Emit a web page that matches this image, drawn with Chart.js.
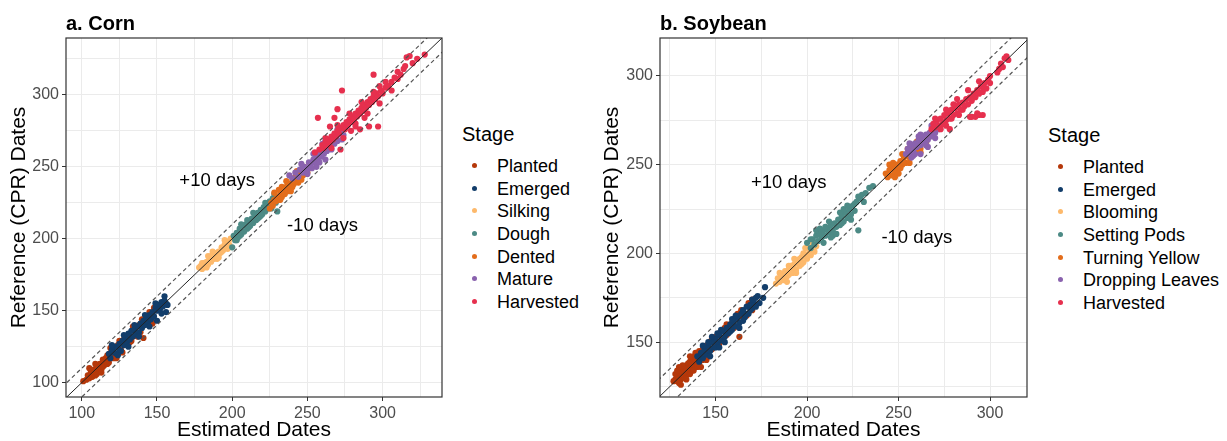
<!DOCTYPE html>
<html>
<head>
<meta charset="utf-8">
<script src="https://cdn.jsdelivr.net/npm/chart.js@4.4.1/dist/chart.umd.min.js"></script>
<style>
  body { margin: 0; background: #fff; font-family: "Liberation Sans", Arial, sans-serif; }
  #wrap { position: relative; width: 1227px; height: 441px; overflow: hidden; }
  canvas { position: absolute; top: 0; }
  .title { position: absolute; top: 11px; font-weight: bold; font-size: 20px; line-height: 24px; color: #000; }
  .legend { position: absolute; color: #000; }
  .legend .head { font-size: 20px; line-height: 24px; height: 24px; margin-bottom: 9px; }
  .legend .row { display: flex; align-items: center; height: 22.7px; font-size: 18px; line-height: 22.7px; white-space: nowrap; }
  .legend .dot { width: 5px; height: 5px; border-radius: 50%; margin-left: 10px; margin-right: 20px; position: relative; top: -1px; }
</style>
</head>
<body>
<div id="wrap">
  <canvas id="cornChart" width="450" height="441" style="left:0"></canvas>
  <canvas id="soyChart" width="435" height="441" style="left:600px"></canvas>
  <div class="title" style="left:66px">a. Corn</div>
  <div class="title" style="left:660px">b. Soybean</div>
  <div class="legend" id="cornLegend" style="left:462px; top:122px"></div>
  <div class="legend" id="soyLegend" style="left:1048px; top:123px"></div>
</div>
<script>
// stage names and colours
const cornStages = ['Planted', 'Emerged', 'Silking', 'Dough', 'Dented', 'Mature', 'Harvested'];
const soyStages = ['Planted', 'Emerged', 'Blooming', 'Setting Pods', 'Turning Yellow', 'Dropping Leaves', 'Harvested'];
const stageColors = ['#B5380A', '#123D6A', '#FDB96B', '#4C8A85', '#E36D1B', '#8A62AE', '#E6304E'];

// tick labels
const cornTicks = [100, 150, 200, 250, 300];
const soyTicks = [150, 200, 250, 300];

// reference lines (y = x and +/- 10 days)
const lineOneToOne = [[80, 80], [360, 360]];
const linePlus10 = [[80, 90], [360, 370]];
const lineMinus10 = [[80, 70], [360, 350]];

// corn points [estimated, reference]
const cornPlanted = [[101,101],[103,102],[104,105],[105,103],[106,107],[107,104],[108,106],[108,109],[109,105],[110,111],
  [111,108],[112,110],[112,113],[113,109],[114,116],[115,112],[116,117],[116,113],[117,119],[118,114],[119,118],[120,122],
  [121,117],[122,120],[124,126],[126,123],[128,130],[130,127],[131,133],[133,129],[135,138],[136,133],[138,140],[139,135],
  [141,131],[141,143],[143,141],[144,146],[146,144],[148,152],[150,151],[110,106],[114,111],
  [105,110],[109,113],[113,107],[117,113],[119,124],[123,117],[125,129],[127,121],[132,128],[134,139],[137,132],[140,144],
  [145,149],[147,141]];
const cornEmerged = [[118,120],[119,117],[120,123],[121,121],[122,125],[123,120],[124,124],[125,127],[126,122],[127,129],
  [128,126],[129,131],[130,128],[131,134],[132,130],[133,136],[134,132],[135,137],[136,134],[137,139],[138,135],[139,141],
  [140,138],[141,143],[142,140],[143,145],[144,142],[145,147],[146,144],[147,149],[148,146],[149,152],[150,150],[151,154],
  [152,151],[153,156],[154,153],[155,157],[156,155],[150,143],[156,149],
  [120,126],[124,119],[128,133],[131,125],[135,140],[138,132],[142,147],[145,139],[149,155],[153,148],[155,160],[157,154]];
const cornSilking = [[178,180],[179,181],[180,179],[181,183],[182,181],[183,184],[184,182],[185,186],[186,184],[187,188],
  [188,186],[189,190],[190,188],[191,191],[192,190],[193,194],[194,192],[195,196],[196,194],[197,198],[198,196],[199,200],
  [186,188],[190,186],[180,183],[183,180],[187,191],[191,187],[195,199],[197,193],[184,188],[193,191]];
const cornDough = [[200,194],[201,202],[202,199],[203,204],[204,201],[205,207],[206,203],[207,209],[208,205],[209,210],
  [210,207],[211,212],[212,209],[213,214],[214,211],[215,216],[216,213],[217,218],[218,215],[219,220],[220,217],[221,222],
  [222,219],[223,224],[224,221],[225,226],[226,223],[227,228],[229,225],[230,219],[210,213],
  [203,199],[206,210],[211,208],[214,218],[219,216],[222,225],[226,221],[228,231],[205,202],[217,214]];
const cornDented = [[225,221],[226,225],[227,223],[228,227],[229,226],[230,229],[231,227],[232,231],[233,229],[234,233],
  [235,231],[236,236],[237,233],[238,238],[239,235],[240,240],[241,238],[242,243],[243,240],[244,245],[245,242],[246,246],
  [247,244],[248,247],[249,245],[250,246],[233,236],[240,236],
  [228,232],[232,227],[236,240],[239,233],[243,247],[246,241],[231,234],[248,250],[244,239]];
const cornMature = [[238,244],[240,242],[242,246],[244,243],[245,248],[247,246],[248,250],[250,248],[251,253],[252,251],
  [254,255],[255,253],[256,258],[257,256],[258,260],[259,257],[260,262],[261,259],[262,264],[263,261],[264,266],[265,263],
  [266,268],[268,266],[269,271],[270,268],[272,274],[274,272],[276,278],[262,255],[256,250],
  [246,252],[250,245],[254,259],[258,253],[262,268],[266,262],[270,276],[273,269],[253,249],[260,266]];
const cornHarvested = [[255,260],[257,284],[258,262],[260,265],[261,263],[262,267],[263,265],[264,269],[265,267],[265,278],
  [266,271],[267,269],[268,273],[268,284],[269,271],[270,275],[270,290],[271,273],[272,277],[272,262],[273,303],[274,279],
  [275,276],[276,281],[277,279],[278,283],[279,281],[280,285],[281,283],[282,287],[283,285],[284,289],[285,287],[286,291],
  [287,289],[288,293],[289,291],[290,295],[291,278],[291,293],[292,297],[293,295],[294,314],[294,299],[295,297],[296,301],
  [297,278],[297,299],[298,306],[299,303],[300,301],[302,305],[304,306],[306,309],[308,312],[310,316],[312,314],[315,320],
  [316,326],[318,327],[320,322],[323,325],[328,328],[282,278],[285,276],
  [262,270],[266,263],[270,279],[274,270],[278,287],[282,280],[286,295],[290,287],[294,302],[298,294],[302,309],[306,303],
  [310,311],[314,318],[288,284],[279,275]];

// soybean points [estimated, reference]
const soyPlanted = [[128,129],[129,131],[129,128],[130,133],[130,130],[131,129],[131,135],[132,131],[132,134],[133,130],
  [133,136],[134,133],[134,137],[135,132],[135,138],[136,135],[136,139],[137,134],[137,141],[138,137],[138,142],[139,136],
  [139,144],[140,139],[140,142],[141,138],[141,145],[142,141],[143,146],[143,140],[144,143],[145,148],[146,145],[147,150],
  [148,146],[150,149],[152,155],[154,152],[156,160],[158,157],[159,161],[160,163],[163,153],[165,164],[168,172],[170,168],
  [170,174],[132,137],[134,129],[136,142],[130,136],[142,136],[145,140],[155,158],[162,166],
  [128,132],[130,127],[131,132],[133,133],[135,135],[137,138],[139,140],[141,142],[129,134],[134,135],[136,132],[138,134],
  [140,136],[142,144],[144,147],[146,142],[148,152],[150,153],[152,149],[156,154],[160,158],[164,168],[167,165],[131,126],
  [127,128]];
const soyEmerged = [[140,142],[141,139],[142,144],[143,141],[144,146],[145,143],[146,148],[147,145],[148,150],[149,147],
  [150,152],[151,149],[152,154],[153,151],[154,156],[155,153],[156,158],[157,155],[158,160],[159,157],[160,162],[161,159],
  [162,164],[163,161],[164,166],[165,168],[166,164],[167,170],[168,166],[169,171],[170,169],[171,172],[172,170],[174,172],
  [176,175],[177,181],[146,150],[150,147],[156,155],[153,157],
  [143,148],[147,142],[151,155],[155,150],[159,163],[163,158],[167,166],[170,174],[173,176],[148,153],[152,147],[158,156],
  [161,165],[165,162],[169,168],[172,175]];
const soyBlooming = [[183,183],[184,186],[185,184],[186,188],[187,185],[188,190],[189,187],[190,191],[190,188],[191,193],
  [192,189],[193,194],[194,191],[195,196],[196,193],[197,198],[198,195],[199,203],[200,197],[201,200],[202,199],[203,202],
  [204,201],[205,204],[188,186],[192,192],[196,197],
  [185,189],[189,184],[193,197],[197,194],[201,203],[200,199],[203,206],[190,193],[194,189],[198,200]];
const soySettingPods = [[200,206],[202,203],[203,208],[204,205],[205,210],[206,207],[207,211],[208,209],[209,213],[210,210],
  [211,214],[212,212],[213,216],[214,213],[215,217],[216,215],[217,219],[218,216],[219,221],[220,218],[221,223],[222,220],
  [223,225],[224,222],[225,227],[226,224],[227,229],[228,213],[229,231],[230,233],[232,234],[234,237],[236,238],[210,215],
  [214,210],[218,223],
  [205,213],[209,206],[212,218],[216,211],[220,225],[224,219],[228,232],[231,229],[207,214],[213,209],[219,217],[222,227],
  [226,228],[202,208],[208,212]];
const soyTurningYellow = [[243,245],[244,243],[245,247],[246,244],[247,248],[248,246],[249,250],[250,248],[251,252],[252,250],
  [253,254],[254,251],[255,256],[256,254],[257,258],[258,256],[259,260],[260,258],[261,262],[262,259],[263,263],[265,262],
  [267,266],[246,249],[250,245],
  [245,250],[248,243],[252,256],[256,251],[260,263],[262,257],[264,265],[247,251],[251,248],[255,259]];
const soyDroppingLeaves = [[254,256],[255,259],[256,257],[257,261],[258,258],[259,262],[260,260],[261,264],[262,261],[263,265],
  [264,263],[265,267],[266,264],[267,268],[268,266],[269,270],[270,268],[271,272],[272,270],[262,256],[266,260],[258,255],
  [256,262],[259,256],[262,267],[265,261],[268,272],[270,265],[257,254],[261,266]];
const soyHarvested = [[268,270],[269,273],[270,271],[271,275],[272,272],[273,276],[274,273],[275,278],[276,275],[277,279],
  [278,276],[279,281],[280,278],[281,282],[282,279],[283,284],[284,281],[285,285],[286,283],[287,287],[288,284],[289,288],
  [290,286],[290,277],[291,290],[292,277],[292,288],[293,292],[294,278],[294,290],[295,294],[296,291],[297,296],[298,293],
  [299,298],[300,296],[305,304],[306,307],[308,310],[310,309],[276,272],[280,284],[278,270],
  [270,276],[273,270],[276,281],[279,276],[282,287],[285,281],[288,292],[291,288],[294,297],[297,293],[300,300],[289,277],
  [293,279],[296,278],[283,278],[304,302],[307,305],[309,311]];

// text labels inside the panels, in data units
const bandLabels = [{ text: '+10 days', x: 190, y: 240 }, { text: '-10 days', x: 260, y: 209 }];

const FONT = '"Liberation Sans", Arial, sans-serif';
const toXY = arr => arr.map(p => ({ x: p[0], y: p[1] }));

const panelExtras = {
  id: 'panelExtras',
  afterDatasetsDraw(chart) {
    const { ctx, chartArea: a, scales } = chart;
    ctx.save();
    ctx.fillStyle = '#000';
    ctx.font = '18.5px ' + FONT;
    ctx.textAlign = 'center';
    ctx.textBaseline = 'middle';
    bandLabels.forEach(l => {
      ctx.fillText(l.text, scales.x.getPixelForValue(l.x), scales.y.getPixelForValue(l.y));
    });
    ctx.strokeStyle = '#333';
    ctx.lineWidth = 1.2;
    ctx.strokeRect(a.left, a.top, a.right - a.left, a.bottom - a.top);
    ctx.restore();
  }
};

function makePanel(id, stages, series, xRange, yRange, ticks, yAxisWidth, yTitlePad) {
  const datasets = [
    { type: 'line', data: toXY(lineOneToOne), borderColor: '#222', borderWidth: 1, pointRadius: 0, order: 0 },
    { type: 'line', data: toXY(linePlus10), borderColor: '#555', borderWidth: 1.2, borderDash: [4, 3], pointRadius: 0, order: 0 },
    { type: 'line', data: toXY(lineMinus10), borderColor: '#555', borderWidth: 1.2, borderDash: [4, 3], pointRadius: 0, order: 0 }
  ];
  // later stages are drawn on top of earlier ones
  stages.forEach((s, i) => {
    datasets.push({
      type: 'scatter', label: s, data: toXY(series[i]),
      backgroundColor: stageColors[i], borderWidth: 0, pointRadius: 3.1, order: 10 - i
    });
  });

  const axis = (range, title, pos) => ({
    type: 'linear', position: pos, min: range[0], max: range[1],
    border: { display: false },
    grid: {
      color: '#EBEBEB', lineWidth: 1, tickLength: 4,
      tickColor: c => ticks.includes(c.tick.value) ? '#333' : 'rgba(0,0,0,0)'
    },
    // grid every 25 days, labels only on the major ticks
    afterBuildTicks: s => {
      const t = [];
      for (let v = Math.ceil(s.min / 25) * 25; v <= s.max; v += 25) t.push({ value: v });
      s.ticks = t;
    },
    ticks: {
      autoSkip: false, maxRotation: 0, padding: 3,
      color: '#4D4D4D', font: { family: FONT, size: 16 },
      callback: v => ticks.includes(v) ? String(v) : ''
    },
    title: {
      display: true, text: title, color: '#000',
      font: { family: FONT, size: 21, lineHeight: pos === 'left' ? 1.2 : 1 },
      padding: pos === 'left' ? { top: yTitlePad, bottom: 0 } : { top: 0, bottom: 0 }
    },
    afterFit: s => { if (pos === 'left') s.width = yAxisWidth; else s.height = 44; }
  });

  new Chart(document.getElementById(id), {
    data: { datasets },
    options: {
      responsive: false,
      animation: false,
      events: [],
      layout: { padding: { top: 38, right: 8, left: 0, bottom: 0 } },
      plugins: { legend: { display: false }, tooltip: { enabled: false } },
      scales: {
        x: axis(xRange, 'Estimated Dates', 'bottom'),
        y: axis(yRange, 'Reference (CPR) Dates', 'left')
      }
    },
    plugins: [panelExtras]
  });
}

function makeLegend(id, stages) {
  const box = document.getElementById(id);
  let html = '<div class="head">Stage</div>';
  stages.forEach((s, i) => {
    html += '<div class="row"><span class="dot" style="background:' + stageColors[i] + '"></span>' + s + '</div>';
  });
  box.innerHTML = html;
}

makePanel('cornChart', cornStages,
  [cornPlanted, cornEmerged, cornSilking, cornDough, cornDented, cornMature, cornHarvested],
  [89.5, 339.5], [90, 339.5], cornTicks, 66, 7);
makePanel('soyChart', soyStages,
  [soyPlanted, soyEmerged, soyBlooming, soySettingPods, soyTurningYellow, soyDroppingLeaves, soyHarvested],
  [119.6, 320.2], [119.1, 321.4], soyTicks, 60, 0);
makeLegend('cornLegend', cornStages);
makeLegend('soyLegend', soyStages);
</script>
</body>
</html>
